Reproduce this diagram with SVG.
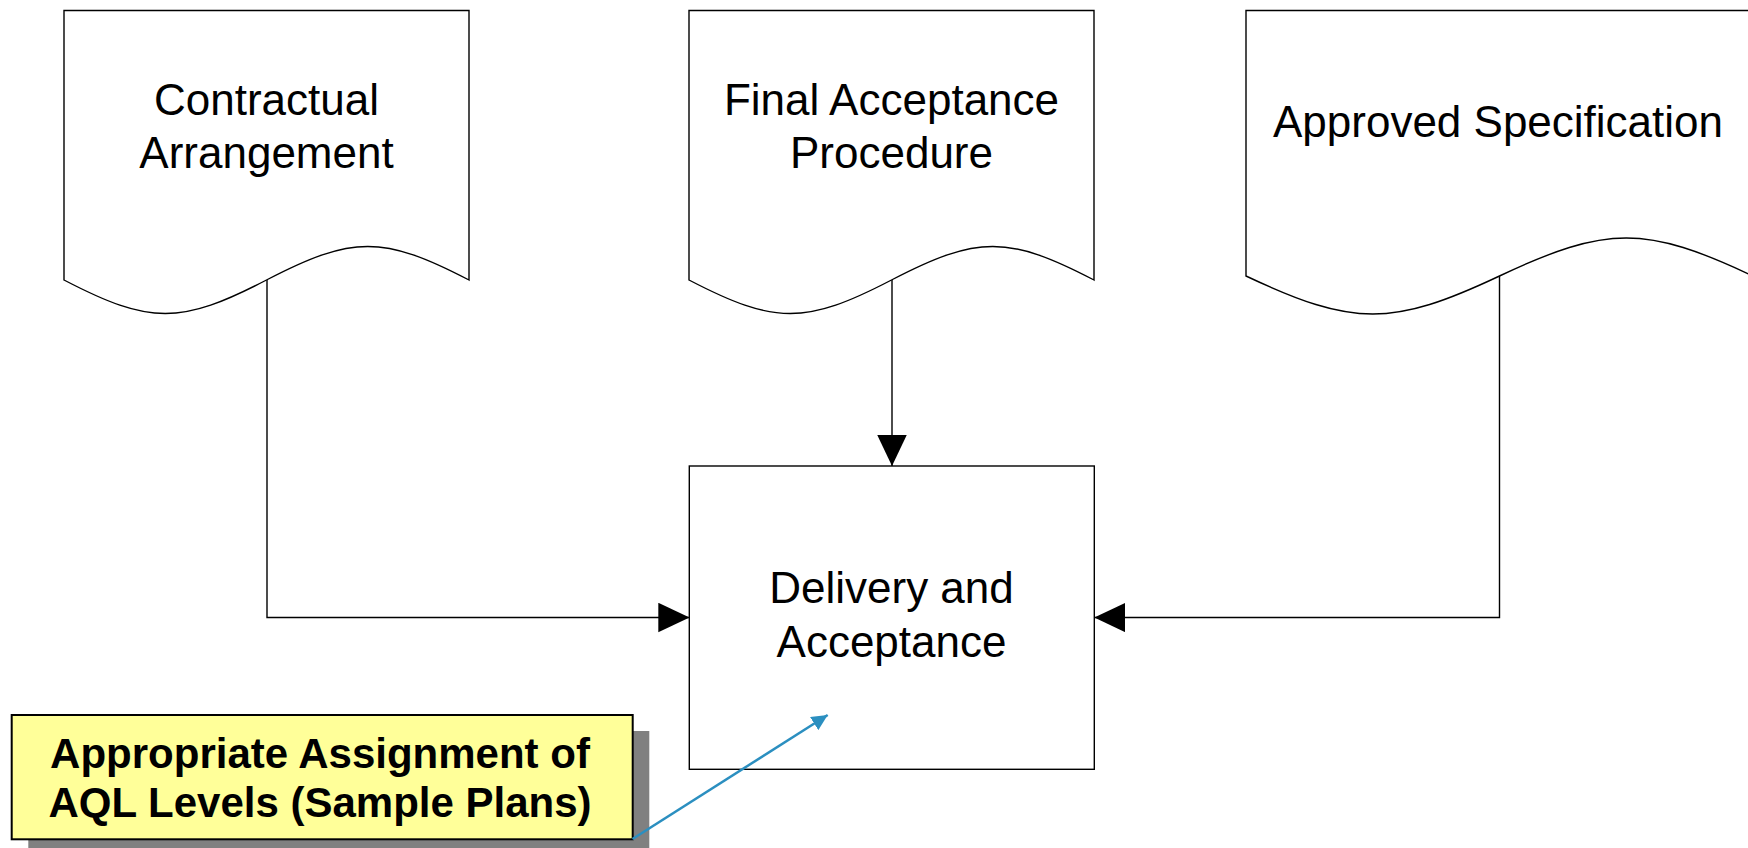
<svg xmlns="http://www.w3.org/2000/svg" width="1748" height="848" viewBox="0 0 1748 848">
  <style>
    .shape { fill: #ffffff; stroke: #000000; stroke-width: 1.4; }
    .label { font-family: "Liberation Sans", Arial, sans-serif; font-size: 44px; fill: #000000; text-anchor: middle; }
    .flow { fill: none; stroke: #000000; stroke-width: 1.4; }
    .note { fill: #ffff99; stroke: #000000; stroke-width: 2; }
    .note-shadow { fill: #808080; }
    .note-text { font-family: "Liberation Sans", Arial, sans-serif; font-size: 42px; font-weight: bold; fill: #000000; text-anchor: middle; }
    .pointer { fill: none; stroke: #2b8fc0; stroke-width: 2.5; }
  </style>
  <defs>
    <marker id="arrow" markerUnits="userSpaceOnUse" markerWidth="31" markerHeight="30" refX="31" refY="14.75" orient="auto">
      <path d="M0,0 L31,14.75 L0,29.5 Z" fill="#000000"/>
    </marker>
    <marker id="arrow-blue" markerUnits="userSpaceOnUse" markerWidth="17" markerHeight="16" refX="16" refY="7.75" orient="auto">
      <path d="M0,0 L16,7.75 L0,15.5 Z" fill="#2b8fc0"/>
    </marker>
  </defs>

  <!-- connectors -->
  <g id="connectors">
    <path class="flow" d="M267,280 V617.5 H689.3" marker-end="url(#arrow)"/>
    <path class="flow" d="M892,280 V466" marker-end="url(#arrow)"/>
    <path class="flow" d="M1499.5,276 V617.5 H1094.3" marker-end="url(#arrow)"/>
  </g>

  <!-- document: Contractual Arrangement -->
  <g id="contractual-arrangement">
    <path class="shape" d="M64,10.5 H469 V280 C383,235.3 352.5,235.3 266.5,280 S150,324.7 64,280 Z"/>
    <text class="label" x="266.5" y="115">Contractual</text>
    <text class="label" x="266.5" y="168.3">Arrangement</text>
  </g>

  <!-- document: Final Acceptance Procedure -->
  <g id="final-acceptance-procedure">
    <path class="shape" d="M689,10.5 H1094 V280 C1008,235.3 977.5,235.3 891.5,280 S775,324.7 689,280 Z"/>
    <text class="label" x="891.5" y="115">Final Acceptance</text>
    <text class="label" x="891.5" y="168.3">Procedure</text>
  </g>

  <!-- document: Approved Specification -->
  <g id="approved-specification">
    <path class="shape" d="M1246,10.5 H1753 V276 C1645.5,225.3 1607,225.3 1499.5,276 S1353.5,326.7 1246,276 Z"/>
    <text class="label" x="1498" y="137.3">Approved Specification</text>
  </g>

  <!-- process: Delivery and Acceptance -->
  <g id="delivery-and-acceptance">
    <rect class="shape" x="689.3" y="466" width="405" height="303.3"/>
    <text class="label" x="891.5" y="603.3">Delivery and</text>
    <text class="label" x="891.5" y="657.3">Acceptance</text>
  </g>

  <!-- callout note -->
  <g id="aql-note">
    <rect class="note-shadow" x="28.3" y="731" width="621" height="124"/>
    <rect class="note" x="11.7" y="715" width="621" height="124.3"/>
    <text class="note-text" x="320" y="767.7">Appropriate Assignment of</text>
    <text class="note-text" x="320" y="816.7">AQL Levels (Sample Plans)</text>
    <path class="pointer" d="M632.5,839 L827.7,715" marker-end="url(#arrow-blue)"/>
  </g>
</svg>
